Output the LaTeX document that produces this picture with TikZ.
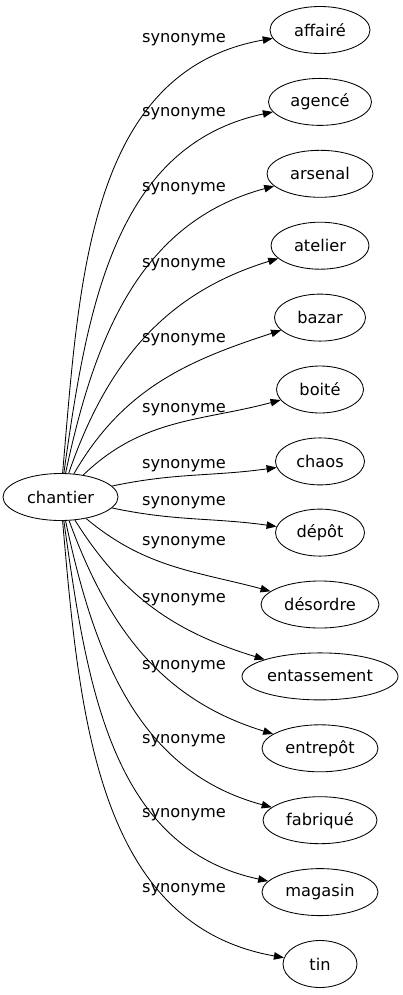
\documentclass[tikz,border=0pt]{standalone}
\usepackage{fontspec}
\setmainfont{DejaVu Sans}
\usetikzlibrary{arrows.meta, shapes.geometric}
\tikzset{
>={Triangle[length=10pt,width=7.5pt]}, % filled arrow heads
word/.style={draw, ellipse, inner sep=0pt, minimum height=47pt}, % the word nodes
every node/.style={font=\fontsize{16.2}{19}\selectfont}, % text size for all nodes
}
\begin{document}
\begin{tikzpicture}[x=1pt,y=1pt,->,line width=0.85pt]
\useasboundingbox (0,0) rectangle (403,-995);
\node[word, minimum width=115pt] (A) at (60.5,-497) {chantier};
\node[word, minimum width=100pt] (B) at (320,-30) {affairé};
\node[word, minimum width=103pt] (C) at (320,-101.9) {agencé};
\node[word, minimum width=106pt] (D) at (320,-173.8) {arsenal};
\node[word, minimum width=98pt] (E) at (320,-245.7) {atelier};
\node[word, minimum width=91pt] (F) at (320,-317.6) {bazar};
\node[word, minimum width=87pt] (G) at (320,-389.5) {boité};
\node[word, minimum width=89pt] (H) at (320,-461.4) {chaos};
\node[word, minimum width=89pt] (I) at (320,-532.6) {dépôt};
\node[word, minimum width=118pt] (J) at (320,-604.5) {désordre};
\node[word, minimum width=156pt] (K) at (320,-676.4) {entassement};
\node[word, minimum width=116pt] (L) at (320,-748.3) {entrepôt};
\node[word, minimum width=114pt] (M) at (320,-820.2) {fabriqué};
\node[word, minimum width=116pt] (N) at (320,-892.1) {magasin};
\node[word, minimum width=74pt] (O) at (320,-964) {tin};
\path (A) edge[out=85,in=190] (B)
edge[out=82,in=192] (C)
edge[out=78,in=195] (D)
edge[out=71,in=197] (E)
edge[out=60,in=198] (F)
edge[out=44,in=195] (G)
edge[out=12,in=188] (H)
edge[out=-12,in=172] (I)
edge[out=-40,in=165] (J)
edge[out=-58,in=163] (K)
edge[out=-70,in=163] (L)
edge[out=-78,in=165] (M)
edge[out=-82,in=168] (N)
edge[out=-85,in=170] (O);
\node (lB) at (184,-40) {synonyme};
\node (lC) at (184,-114) {synonyme};
\node (lD) at (184,-189) {synonyme};
\node (lE) at (184,-265) {synonyme};
\node (lF) at (184,-340) {synonyme};
\node (lG) at (184,-410) {synonyme};
\node (lH) at (184,-466) {synonyme};
\node (lI) at (184,-503) {synonyme};
\node (lJ) at (184,-543) {synonyme};
\node (lK) at (184,-600) {synonyme};
\node (lL) at (184,-667) {synonyme};
\node (lM) at (184,-741) {synonyme};
\node (lN) at (184,-815) {synonyme};
\node (lO) at (184,-890) {synonyme};
\end{tikzpicture}
\end{document}
